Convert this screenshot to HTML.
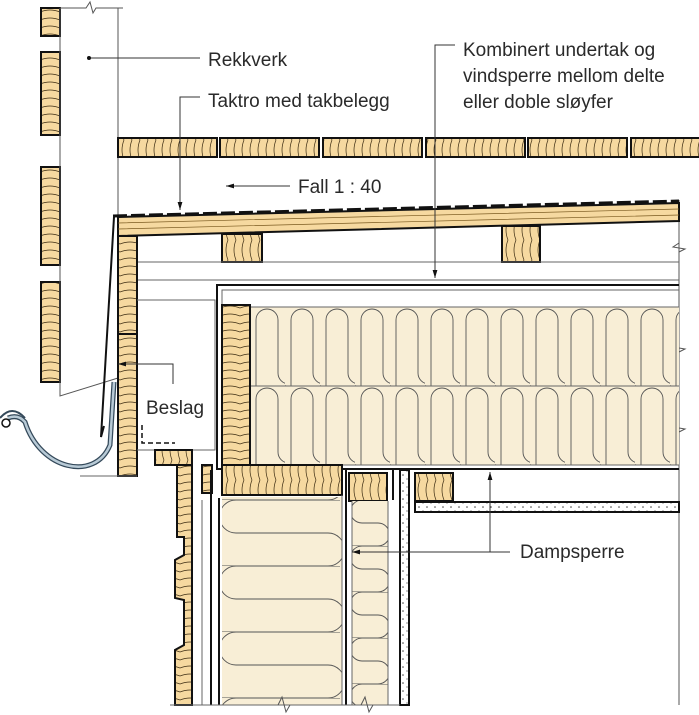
<!DOCTYPE html>
<html><head><meta charset="utf-8"><style>
html,body{margin:0;padding:0;background:#fff;width:699px;height:715px;overflow:hidden}
svg{display:block}
text{font-family:"Liberation Sans",sans-serif;font-size:19px;fill:#2a2a2a}
</style></head><body>
<svg width="699" height="715" viewBox="0 0 699 715" xmlns="http://www.w3.org/2000/svg">
<defs>
<pattern id="wv" width="20" height="24" patternUnits="userSpaceOnUse">
<rect width="20" height="24" fill="#f6d9a0"/>
<path d="M0,4 Q10,0 20,4 M0,12 Q10,8 20,12 M0,20 Q10,16 20,20" stroke="#3a2a10" stroke-width="0.7" fill="none"/>
</pattern>
<pattern id="wh" width="24" height="20" patternUnits="userSpaceOnUse">
<rect width="24" height="20" fill="#f6d9a0"/>
<path d="M4,0 Q0,10 4,20 M12,0 Q8,10 12,20 M20,0 Q16,10 20,20" stroke="#3a2a10" stroke-width="0.7" fill="none"/>
</pattern>
<pattern id="ins" x="250" y="307" width="35" height="79" patternUnits="userSpaceOnUse">
<rect width="35" height="79" fill="#f8eed6"/>
<path d="M6,79 L6,13 A11,11 0 0 1 28,13 L28,66 A11,11 0 0 0 50,66" stroke="#555" stroke-width="0.9" fill="none"/>
<path d="M-7,66 A11,11 0 0 0 6,79" stroke="#555" stroke-width="0.9" fill="none"/>
</pattern>
<pattern id="insw" x="222" y="500" width="120" height="66" patternUnits="userSpaceOnUse">
<rect width="120" height="66" fill="#f8eed6"/>
<path d="M118,0 L14,0 A16,16 0 0 0 14,33 L106,33 A16,16 0 0 1 106,66 L0,66" stroke="#555" stroke-width="0.9" fill="none"/>
</pattern>
<pattern id="insn" x="352" y="500" width="36" height="46" patternUnits="userSpaceOnUse">
<rect width="36" height="46" fill="#f8eed6"/>
<path d="M36,0 L10,0 A11,11 0 0 0 10,23 L26,23 A11,11 0 0 1 26,46 L0,46" stroke="#555" stroke-width="0.9" fill="none"/>
</pattern>
<pattern id="dots" width="8" height="8" patternUnits="userSpaceOnUse">
<rect width="8" height="8" fill="#fff"/><circle cx="3" cy="3" r="0.8" fill="#444"/><circle cx="7" cy="7" r="0.6" fill="#444"/>
</pattern>
<marker id="ar" viewBox="0 0 10 10" refX="10" refY="5" markerWidth="8" markerHeight="8" orient="auto-start-reverse"><path d="M0,2 L10,5 L0,8Z" fill="#111"/></marker>
</defs>

<g stroke="#111" stroke-width="2">
<rect x="41" y="8" width="19" height="28" fill="url(#wv)"/>
<rect x="41" y="52" width="19" height="83" fill="url(#wv)"/>
<rect x="41" y="167" width="19" height="98" fill="url(#wv)"/>
<rect x="41" y="282" width="19" height="100" fill="url(#wv)"/>
</g>
<g stroke="#555" stroke-width="1" fill="none">
<path d="M60,8 L86,8 L90,2 L93,13 L96,8 L123,8"/>
<path d="M60,8 L60,396 L118,378"/>
<path d="M118,8 L118,215"/>
<path d="M679,200 L679,705"/>
<path d="M679,243 L673,247 L685,249 L679,252 M679,343 L673,347 L685,349 L679,352 M679,423 L673,427 L685,429 L679,432"/>
</g>

<g stroke="#111" stroke-width="2" fill="url(#wh)">
<rect x="118" y="138" width="99" height="19"/>
<rect x="220" y="138" width="99" height="19"/>
<rect x="323" y="138" width="99" height="19"/>
<rect x="426" y="138" width="99" height="19"/>
<rect x="528" y="138" width="99" height="19"/>
<rect x="631" y="138" width="70" height="19"/>
</g>

<polygon points="118,217 679,203 679,221 118,236" fill="#f6d9a0" stroke="#111" stroke-width="2"/>
<path d="M118,223 L679,209 M118,229 L679,215" stroke="#7a5a20" stroke-width="0.7"/>
<path d="M113,216 L679,201" stroke="#111" stroke-width="3" stroke-dasharray="14,4"/>
<rect x="222" y="234" width="40" height="28" fill="url(#wh)" stroke="#111" stroke-width="2"/>
<rect x="502" y="226" width="38" height="36" fill="url(#wh)" stroke="#111" stroke-width="2"/>
<g stroke="#666" stroke-width="1">
<path d="M137,262 L679,262"/>
<path d="M137,280 L679,280"/>
</g>
<rect x="118" y="236" width="19" height="240" fill="url(#wv)" stroke="#111" stroke-width="2"/>
<path d="M118,334 L137,334" stroke="#111" stroke-width="2"/>
<path d="M114,217 L101,437 L104,426" stroke="#111" stroke-width="2" fill="none"/>
<!-- gutter -->
<path d="M8,418 Q18,414 25,422 C40,470 95,482 110,445 L114,382" stroke="#34495a" stroke-width="5" fill="none"/>
<path d="M8,418 Q18,414 25,422 C40,470 95,482 110,445 L114,382" stroke="#b8cad6" stroke-width="2.5" fill="none"/>
<path d="M0,418 Q12,404 25,418" stroke="#34495a" stroke-width="2" fill="none"/>
<circle cx="6" cy="423" r="4" fill="#fff" stroke="#111" stroke-width="1.5"/>
<path d="M137,476 L80,476" stroke="#666" stroke-width="1"/>

<path d="M137,300 L215,300 L215,450 L137,450" stroke="#666" stroke-width="1" fill="none"/>
<path d="M217,468 L217,285 L679,285" stroke="#111" stroke-width="2" fill="none"/>
<path d="M222,305 L222,290 L679,290" stroke="#666" stroke-width="1" fill="none"/>
<rect x="250" y="307" width="429" height="158" fill="url(#ins)"/>
<path d="M250,307 L679,307 M250,386 L679,386 M250,465 L679,465" stroke="#666" stroke-width="1"/>
<path d="M216,469 L679,469" stroke="#111" stroke-width="2"/>
<rect x="222" y="305" width="28" height="160" fill="url(#wv)" stroke="#111" stroke-width="2"/>
<path d="M142,425 L142,443 L175,443" stroke="#111" stroke-width="1.5" stroke-dasharray="5,3" fill="none"/>

<rect x="222" y="465" width="120" height="30" fill="url(#wh)" stroke="#111" stroke-width="2"/>
<rect x="349" y="473" width="38" height="28" fill="url(#wh)" stroke="#111" stroke-width="2"/>
<rect x="415" y="473" width="38" height="28" fill="url(#wh)" stroke="#111" stroke-width="2"/>
<rect x="415" y="502" width="264" height="10" fill="url(#dots)" stroke="#111" stroke-width="2"/>
<rect x="155" y="450" width="37" height="15" fill="url(#wh)" stroke="#111" stroke-width="2"/>
<rect x="202" y="465" width="10" height="28" fill="url(#wv)" stroke="#111" stroke-width="2"/>
<path d="M177,465 L192,465 L192,705 L175,705 L175,650 L184,645 L184,600 L175,598 L175,560 L184,555 L184,537 L177,537 Z" fill="url(#wv)" stroke="#111" stroke-width="2"/>
<path d="M211,470 L211,705 M219,498 L219,705" stroke="#111" stroke-width="2"/>
<path d="M202,500 L202,705" stroke="#666" stroke-width="1"/>
<rect x="222" y="497" width="120" height="208" fill="url(#insw)"/>
<path d="M342,495 L342,705" stroke="#666" stroke-width="1"/>
<path d="M346,470 L346,705" stroke="#111" stroke-width="2"/>
<rect x="352" y="501" width="36" height="204" fill="url(#insn)"/>
<path d="M352,501 L352,705 M388,501 L388,705" stroke="#666" stroke-width="1"/>
<path d="M393,470 L393,500" stroke="#111" stroke-width="2"/>
<rect x="400" y="470" width="9" height="235" fill="url(#dots)" stroke="#111" stroke-width="2"/>
<path d="M170,705 L400,705" stroke="#666" stroke-width="1"/>
<path d="M278,705 L282,697 L286,712 L290,705 M361,705 L365,697 L369,712 L373,705" stroke="#555" stroke-width="1" fill="none"/>

<g stroke="#333" stroke-width="1" fill="none">
<path d="M89,58 L200,58"/>
<path d="M200,97 L180,97 L180,210" marker-end="url(#ar)"/>
<path d="M455,45 L435,45 L435,278" marker-end="url(#ar)"/>
<path d="M290,186 L226,186" marker-end="url(#ar)"/>
<path d="M173,384 L173,364 L118,364" marker-end="url(#ar)"/>
<path d="M510,552 L490,552 L490,472" marker-end="url(#ar)"/>
<path d="M490,552 L352,552" marker-end="url(#ar)"/>
</g>
<circle cx="89" cy="58" r="2" fill="#111"/>

<text x="208" y="66">Rekkverk</text>
<text x="208" y="107">Taktro med takbelegg</text>
<text x="463" y="56">Kombinert undertak og</text>
<text x="463" y="82">vindsperre mellom delte</text>
<text x="463" y="108">eller doble sløyfer</text>
<text x="298" y="193">Fall 1 : 40</text>
<text x="146" y="414">Beslag</text>
<text x="520" y="558">Dampsperre</text>
</svg>
</body></html>
